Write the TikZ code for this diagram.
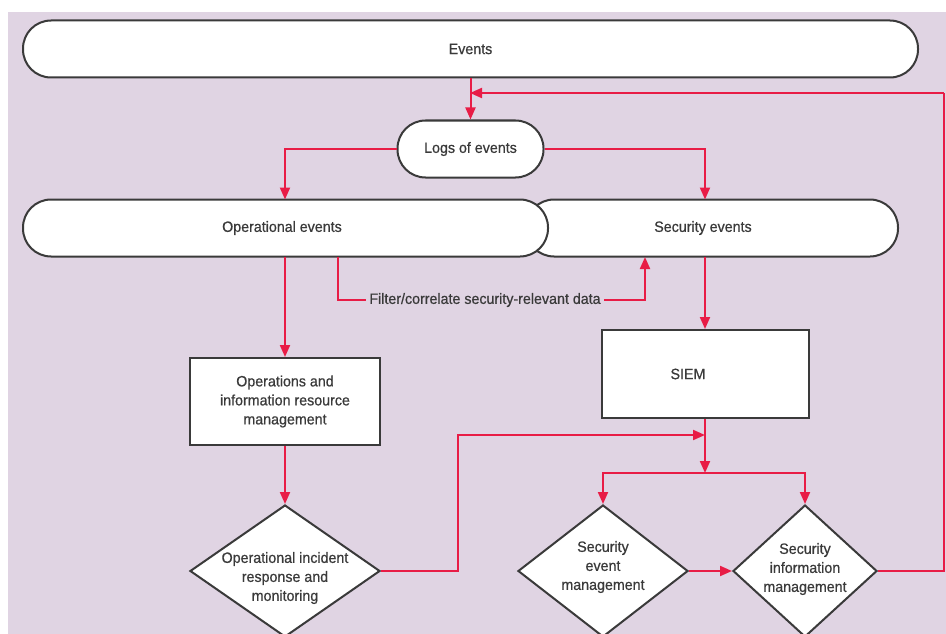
\documentclass[tikz,border=0pt]{standalone}
\usepackage{fontspec}
\setmainfont{Liberation Sans}[FakeStretch=0.95,FakeBold=0.6]
\usetikzlibrary{arrows.meta,shapes.geometric}
\definecolor{bgpurple}{RGB}{224,212,227}
\definecolor{flowred}{RGB}{232,28,70}
\definecolor{inkgray}{RGB}{58,58,58}
\tikzset{
  lbl/.style={font=\fontsize{15}{19}\selectfont,text=inkgray,align=center,inner sep=0pt},
  pill/.style={lbl,draw=inkgray,line width=2pt,fill=white,rounded corners=28pt,
    minimum height=57pt},
  boxnode/.style={lbl,draw=inkgray,line width=2pt,fill=white},
  dia/.style={draw=inkgray,line width=2pt,fill=white,diamond,inner sep=0pt},
  flow/.style={draw=flowred,line width=2pt},
  arr/.style={flow,-{Triangle[length=12pt,width=10pt]}},
}
\begin{document}
\begin{tikzpicture}[x=1pt,y=-1pt]
\useasboundingbox (0,0) rectangle (946,634);
\fill[white] (0,0) rectangle (946,634);
\fill[bgpurple] (8,12) rectangle (946,634);

% top-level event stream
\node[pill,minimum width=895pt] (events) at (470.5,49) {Events};
\node[pill,minimum width=146pt] (logs) at (470.5,149) {Logs of events};

% split into security and operational streams
\node[pill,minimum width=372pt] (sec) at (712,228) {};
\node[lbl] (sectext) at (703,228) {Security events};
\node[pill,minimum width=525pt] (ops) at (285.5,228) {};
\node[lbl] (opstext) at (282,228) {Operational events};

% processing boxes
\node[boxnode,minimum width=190pt,minimum height=87pt] (oirm) at (285,401.5)
  {Operations and\\information resource\\management};
\node[boxnode,minimum width=207pt,minimum height=88pt] (siem) at (705,374) {};
\node[lbl] (siemtext) at (688,374) {SIEM};

% decision diamonds
\node[dia,minimum width=190pt,minimum height=132pt] (oir) at (285,571) {};
\node[lbl] (oirtext) at (285,578) {Operational incident\\response and\\monitoring};
\node[dia,minimum width=170pt,minimum height=132pt] (sem) at (603,571) {};
\node[lbl] (semtext) at (603,567) {Security\\event\\management};
\node[dia,minimum width=144pt,minimum height=132pt] (sim) at (805,571) {};
\node[lbl] (simtext) at (805,569) {Security\\information\\management};

% filter label
\node[lbl,inner sep=3pt] (filt) at (485,300)
  {Filter/correlate security-relevant data};

% helper coordinates
\coordinate (fb) at (944,93);
\coordinate (merge) at (705,435);
\coordinate (split) at (705,473);

% connectors
\draw[arr] (events.south) -- (logs.north);
\draw[arr] (logs.west) -| (285,199.5);
\draw[arr] (logs.east) -| (705,199.5);
\draw[flow] (338,256.5) |- (filt.west);
\draw[arr] (filt.east) -| (645,257);
\draw[arr] (285,256.5) -- (oirm.north);
\draw[arr] (705,256.5) -- (siem.north);
\draw[arr] (oirm.south) -- (oir.north);
\draw[arr] (oir.east) -- (458,571) |- (merge);
\draw[flow] (siem.south) -- (merge);
\draw[arr] (merge) -- (split);
\draw[arr] (split) -| (sem.north);
\draw[arr] (split) -| (sim.north);
\draw[arr] (sem.east) -- (sim.west);
\draw[flow] (sim.east) -| (fb);
\draw[arr] (fb) -- (470,93);
\end{tikzpicture}
\end{document}
